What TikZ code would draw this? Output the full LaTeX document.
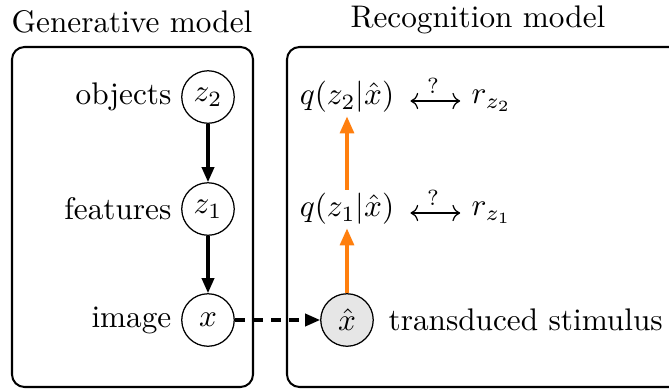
\documentclass[tikz,border=0pt]{standalone}
\usetikzlibrary{arrows.meta}
\definecolor{orangearr}{RGB}{255,127,14}
\definecolor{xhatfill}{RGB}{230,230,230}
\begin{document}
\begin{tikzpicture}[x=0.32pt,y=-0.32pt,
  panel/.style={draw,line width=0.65pt,rounded corners=4pt},
  var/.style={draw,circle,line width=0.4pt,minimum size=16.8pt,inner sep=0pt},
  obs/.style={var,fill=xhatfill},
  lbl/.style={anchor=east,inner sep=0pt},
  gen/.style={-{Triangle[length=4.8pt,width=3.9pt]},line width=1pt},
  rec/.style={-{Triangle[length=5.4pt,width=4.4pt]},line width=1.1pt,draw=orangearr,fill=orangearr},
  match/.style={{Computer Modern Rightarrow}-{Computer Modern Rightarrow},line width=0.4pt,shorten <=4pt,shorten >=2.5pt}]
\useasboundingbox (0,0) rectangle (669,390);
% panels
\draw[panel] (12,47) rectangle (253,387);
\draw[panel] (287,47) rectangle (700,387);
\node (tgen) at (132,22) {Generative model};
\node (trec) at (478,20) {Recognition model};
% generative model
\node[var] (z2) at (208,97) {$z_2$};
\node[var] (z1) at (208,209) {$z_1$};
\node[var] (x) at (208,320) {$x$};
\node[lbl] (lobj) at (172,97) {objects};
\node[lbl] (lfeat) at (172,209) {features};
\node[lbl] (limg) at (172,320) {image};
\draw[gen] (z2) -- (z1);
\draw[gen] (z1) -- (x);
% recognition model
\node[obs] (xh) at (347,320) {$\hat{x}$};
\node[anchor=west,inner sep=0pt] (ts) at (388,320) {transduced stimulus};
\node[inner sep=1pt] (q1) at (347,209) {$q(z_1|\hat{x})$};
\node[inner sep=1pt] (q2) at (347,97) {$q(z_2|\hat{x})$};
\node[anchor=west,inner sep=1pt] (r1) at (468,213) {$r_{z_1}$};
\node[anchor=west,inner sep=1pt] (r2) at (468,101) {$r_{z_2}$};
\draw[match] (q1.east |- 0,213) -- node[above=2.2pt,inner sep=0pt,font=\scriptsize] {?} (r1.west |- 0,213);
\draw[match] (q2.east |- 0,101) -- node[above=2.2pt,inner sep=0pt,font=\scriptsize] {?} (r2.west |- 0,101);
\draw[rec] (xh) -- (q1);
\draw[rec] (q1) -- (q2);
\draw[gen,dash pattern=on 3.2pt off 2.6pt] (x) -- (xh);
\end{tikzpicture}
\end{document}
